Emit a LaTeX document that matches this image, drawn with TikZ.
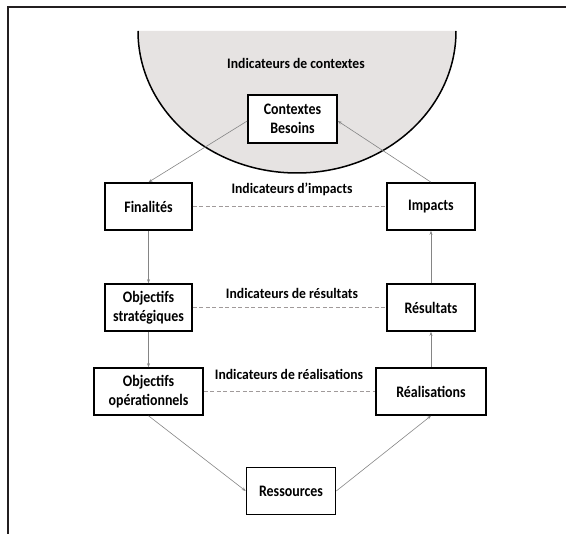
\documentclass[tikz,border=0pt]{standalone}
\usepackage{fontspec}
\setmainfont{Carlito}
\newfontfamily\boxfont{Carlito}[FakeStretch=0.87]
\newfontfamily\lblfont{Carlito}[FakeStretch=0.94]
\usetikzlibrary{arrows.meta}
\definecolor{framec}{HTML}{231F20}
\definecolor{ellfill}{HTML}{E6E3E2}
\definecolor{arrc}{HTML}{858585}
\definecolor{dashc}{HTML}{A09A9A}
\tikzset{
  box/.style={draw=black, line width=1.6pt, fill=white, align=center, inner sep=2pt,
    minimum height=47pt, font=\boxfont\fontsize{16}{18.5}\selectfont\bfseries},
  lbl/.style={font=\lblfont\fontsize{14.5}{16}\selectfont\bfseries, inner sep=0pt},
  conn/.style={draw=arrc, line width=0.6pt, -{Stealth[length=4pt,width=3pt]}},
  dline/.style={draw=dashc, line width=0.8pt, dash pattern=on 4pt off 2.5pt}
}
\begin{document}
\begin{tikzpicture}[x=1pt,y=-1pt]
\useasboundingbox (0,0) rectangle (566,534);
% frame
\draw[framec, line width=2pt] (566,7) -- (8,7) -- (8,534);
% half ellipse
\fill[ellfill] (138,31) arc[start angle=180, end angle=0, x radius=159, y radius=142] -- cycle;
\draw[black, line width=1.5pt] (138,31) arc[start angle=180, end angle=0, x radius=159, y radius=142];
\node[lbl] (lctx) at (296,63) {Indicateurs de contextes};
% boxes
\node[box, minimum width=89pt, minimum height=48.5pt] (ctx) at (292.5,119) {Contextes\\Besoins};
\node[box, minimum width=87pt] (fin) at (148.5,206.5) {Finalités};
\node[box, minimum width=88pt] (imp) at (431,206.5) {Impacts};
\node[box, minimum width=87pt] (ostr) at (148.5,307.5) {Objectifs\\stratégiques};
\node[box, minimum width=88pt] (res) at (431,307.5) {Résultats};
\node[box, minimum width=109pt] (oop) at (148.5,391.5) {Objectifs\\opérationnels};
\node[box, minimum width=109.5pt] (rea) at (431,391.5) {Réalisations};
\node[box, minimum width=89pt] (ress) at (291,491) {Ressources};
% indicator labels
\node[lbl] (limp) at (292,189) {Indicateurs d’impacts};
\node[lbl] (lres) at (292,293) {Indicateurs de résultats};
\node[lbl] (lrea) at (289,374) {Indicateurs de réalisations};
% dashed lines
\draw[dline] (fin.east) -- (imp.west);
\draw[dline] (ostr.east) -- (res.west);
\draw[dline] (oop.east) -- (rea.west);
% arrows
\draw[conn] ([yshift=-2pt]ctx.west) -- (fin.north);
\draw[conn] (fin.south) -- (ostr.north);
\draw[conn] (ostr.south) -- (oop.north);
\draw[conn] (oop.south) -- (ress.west);
\draw[conn] (ress.east) -- (rea.south);
\draw[conn] (rea.north) -- (res.south);
\draw[conn] (res.north) -- (imp.south);
\draw[conn] (imp.north) -- ([yshift=-2pt]ctx.east);
\end{tikzpicture}
\end{document}
